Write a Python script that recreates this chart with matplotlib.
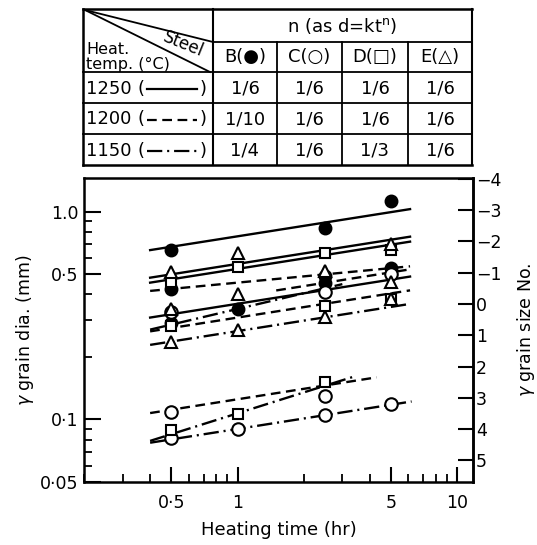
import numpy as np
import matplotlib
matplotlib.use("Agg")
import matplotlib.pyplot as plt
from matplotlib.lines import Line2D

# ── Data ────────────────────────────────────────────────────
STEELS      = ["B", "C", "D", "E"]
STEEL_SYMS  = ["●", "○", "□", "△"]
TEMPS       = [1250, 1200, 1150]
N_TABLE     = [["1/6", "1/6", "1/6", "1/6"],
               ["1/10", "1/6", "1/6", "1/6"],
               ["1/4", "1/6", "1/3", "1/6"]]
N_VALUES    = {("B", 1250): 1/6, ("C", 1250): 1/6, ("D", 1250): 1/6, ("E", 1250): 1/6,
               ("B", 1200): 1/10, ("C", 1200): 1/6, ("D", 1200): 1/6, ("E", 1200): 1/6,
               ("B", 1150): 1/4, ("C", 1150): 1/6, ("D", 1150): 1/3, ("E", 1150): 1/6}

# measured grain diameters (mm) vs heating time (hr)
b1250_t = [0.5, 2.5, 5];       b1250_d = [0.655, 0.83, 1.13]
b1200_t = [0.5, 2.5, 5];       b1200_d = [0.424, 0.49, 0.535]
b1150_t = [0.5, 1, 2.5];       b1150_d = [0.29, 0.34, 0.455]
c1250_t = [0.5, 2.5, 5];       c1250_d = [0.33, 0.41, 0.50]
c1200_t = [0.5, 2.5];          c1200_d = [0.109, 0.129]
c1150_t = [0.5, 1, 2.5, 5];    c1150_d = [0.081, 0.090, 0.1045, 0.118]
d1250_t = [0.5, 1, 2.5, 5];    d1250_d = [0.46, 0.54, 0.63, 0.65]
d1200_t = [0.5, 2.5, 5];       d1200_d = [0.28, 0.35, 0.38]
d1150_t = [0.5, 1, 2.5];       d1150_d = [0.0886, 0.106, 0.152]
e1250_t = [0.5, 1, 5];         e1250_d = [0.51, 0.63, 0.70]
e1200_t = [0.5, 1, 2.5, 5];    e1200_d = [0.34, 0.40, 0.52, 0.46]
e1150_t = [0.5, 1, 2.5, 5];    e1150_d = [0.235, 0.27, 0.31, 0.38]

POINTS = {("B", 1250): (b1250_t, b1250_d), ("B", 1200): (b1200_t, b1200_d), ("B", 1150): (b1150_t, b1150_d),
          ("C", 1250): (c1250_t, c1250_d), ("C", 1200): (c1200_t, c1200_d), ("C", 1150): (c1150_t, c1150_d),
          ("D", 1250): (d1250_t, d1250_d), ("D", 1200): (d1200_t, d1200_d), ("D", 1150): (d1150_t, d1150_d),
          ("E", 1250): (e1250_t, e1250_d), ("E", 1200): (e1200_t, e1200_d), ("E", 1150): (e1150_t, e1150_d)}

# fitted lines d = k t^n : k (mm at 1 hr) and time span of the drawn line
LINE_K    = {("B", 1250): 0.76, ("B", 1200): 0.455, ("B", 1150): 0.34,
             ("C", 1250): 0.36, ("C", 1200): 0.125, ("C", 1150): 0.090,
             ("D", 1250): 0.53, ("D", 1200): 0.309, ("D", 1150): 0.107,
             ("E", 1250): 0.56, ("E", 1200): 0.39,  ("E", 1150): 0.266}
LINE_SPAN = {("B", 1250): (0.4, 6.1), ("B", 1200): (0.4, 6.1), ("B", 1150): (0.4, 3.0),
             ("C", 1250): (0.4, 6.1), ("C", 1200): (0.4, 4.3), ("C", 1150): (0.4, 6.2),
             ("D", 1250): (0.4, 6.1), ("D", 1200): (0.4, 6.1), ("D", 1150): (0.4, 3.4),
             ("E", 1250): (0.4, 6.1), ("E", 1200): (1.5, 6.1), ("E", 1150): (0.4, 6.1)}

X_TICKS  = [0.5, 1, 5, 10];       X_LABELS = ["0·5", "1", "5", "10"]
Y_TICKS  = [0.05, 0.1, 0.5, 1.0]; Y_LABELS = ["0·05", "0·1", "0·5", "1.0"]
GS_NUMS  = [-4, -3, -2, -1, 0, 1, 2, 3, 4, 5]
# ────────────────────────────────────────────────────────────

W, H = 537, 545
plt.rcParams["font.family"] = "DejaVu Sans"
plt.rcParams["lines.scale_dashes"] = False

STYLES = {1250: "-", 1200: (0, (7, 4)), 1150: (0, (11, 3.5, 1.5, 3.5))}
MARKERS = {"B": dict(marker="o", mfc="k", ms=8.5),
           "C": dict(marker="o", mfc="white", ms=9),
           "D": dict(marker="s", mfc="white", ms=7.5),
           "E": dict(marker="^", mfc="white", ms=9)}


def fx(px):
    return px / W


def fy(py):
    return 1 - py / H


fig = plt.figure(figsize=(W / 100, H / 100), dpi=100)
ax = fig.add_axes([fx(84), fy(482), (473 - 84) / W, (482 - 178) / H])
ax.set_xscale("log")
ax.set_yscale("log")
ax.set_xlim(0.2, 11.8)
ax.set_ylim(0.05, 1.45)

# fitted lines
for key, k in LINE_K.items():
    t0, t1 = LINE_SPAN[key]
    tt = np.geomspace(t0, t1, 50)
    ax.plot(tt, k * tt ** N_VALUES[key], color="k", lw=1.7, ls=STYLES[key[1]], zorder=2)

# measured points
for key, (t, d) in POINTS.items():
    ax.plot(t, d, ls="none", mec="k", mew=1.5, zorder=3, **MARKERS[key[0]])

ax.set_xticks(X_TICKS)
ax.set_xticklabels(X_LABELS)
ax.set_yticks(Y_TICKS)
ax.set_yticklabels(Y_LABELS)
ax.tick_params(which="major", direction="in", length=11, width=1.5, labelsize=12.5)
ax.tick_params(which="minor", direction="in", length=6, width=1.3)
ax.tick_params(axis="x", which="major", pad=9)
ax.tick_params(axis="y", which="major", pad=4)
ax.yaxis.set_tick_params(which="major", length=12)
for sp in ax.spines.values():
    sp.set_linewidth(1.8)
ax.spines["top"].set_visible(False)
ax.set_xlabel("Heating time (hr)", fontsize=13, labelpad=6)
ax.set_ylabel("$\\gamma$ grain dia. (mm)", fontsize=12.5, labelpad=3)

# right axis: grain size number (ASTM, d = 0.359 * 2^(-G/2) mm)
ax2 = ax.twinx()
ax2.set_yscale("log")
ax2.set_ylim(ax.get_ylim())
ax2.set_yticks([0.359 * 2 ** (-g / 2) for g in GS_NUMS])
ax2.set_yticklabels([f"{g}".replace("-", "\u2212") for g in GS_NUMS])
ax2.yaxis.set_minor_locator(matplotlib.ticker.NullLocator())
ax2.tick_params(direction="in", length=11, width=1.5, labelsize=12.5, pad=2)
for sp in ax2.spines.values():
    sp.set_visible(False)
ax2.spines["right"].set_visible(True)
ax2.spines["right"].set_linewidth(1.8)
ax2.set_ylabel("$\\gamma$ grain size No.", fontsize=12.5, labelpad=10)

# top line of plot frame
fig.add_artist(Line2D([fx(84), fx(473)], [fy(178), fy(178)], color="k", lw=1.8))

# ── Table ───────────────────────────────────────────────────
COL_X = [83, 213, 277, 342, 408, 472]
ROW_Y = [9, 42, 72, 103, 134, 165]


def seg(x0, y0, x1, y1, lw=1.3, ls="-"):
    fig.add_artist(Line2D([fx(x0), fx(x1)], [fy(y0), fy(y1)], color="k", lw=lw, ls=ls))


# border
seg(COL_X[0], ROW_Y[0], COL_X[-1], ROW_Y[0], lw=1.8)
seg(COL_X[0], ROW_Y[-1], COL_X[-1], ROW_Y[-1], lw=1.8)
seg(COL_X[0], ROW_Y[0], COL_X[0], ROW_Y[-1], lw=1.8)
seg(COL_X[-1], ROW_Y[0], COL_X[-1], ROW_Y[-1], lw=1.5)
# inner lines
seg(COL_X[1], ROW_Y[1], COL_X[-1], ROW_Y[1])
for y in ROW_Y[2:-1]:
    seg(COL_X[0], y, COL_X[-1], y)
seg(COL_X[1], ROW_Y[0], COL_X[1], ROW_Y[-1], lw=1.5)
for x in COL_X[2:-1]:
    seg(x, ROW_Y[1], x, ROW_Y[-1])
# diagonals of corner cell
seg(COL_X[0] + 2, ROW_Y[0] + 1, COL_X[1], ROW_Y[1])
seg(COL_X[0] + 2, ROW_Y[0] + 1, COL_X[1] - 3, ROW_Y[2])

TFS = 13
fig.text(fx(183), fy(44), "Steel", fontsize=12, rotation=-22, ha="center", va="center")
fig.text(fx(86), fy(49), "Heat.", fontsize=11.5, ha="left", va="center")
fig.text(fx(86), fy(64), "temp. (°C)", fontsize=11.5, ha="left", va="center")
fig.text(fx((COL_X[1] + COL_X[-1]) / 2), fy(26), "n (as d=kt$^\\mathregular{n}$)", fontsize=TFS,
         ha="center", va="center")
for j, (s, sym) in enumerate(zip(STEELS, STEEL_SYMS)):
    xc = (COL_X[j + 1] + COL_X[j + 2]) / 2
    fig.text(fx(xc), fy(57), f"{s}({sym})", fontsize=TFS, ha="center", va="center")

for i, temp in enumerate(TEMPS):
    yc = (ROW_Y[i + 2] + ROW_Y[i + 3]) / 2 + 1
    fig.text(fx(86), fy(yc), str(temp), fontsize=TFS, ha="left", va="center")
    fig.text(fx(141), fy(yc), "(", fontsize=TFS, ha="center", va="center")
    fig.text(fx(203), fy(yc), ")", fontsize=TFS, ha="center", va="center")
    seg(147, yc, 197, yc, lw=1.6, ls=STYLES[temp])
    for j in range(4):
        xc = (COL_X[j + 1] + COL_X[j + 2]) / 2
        fig.text(fx(xc), fy(yc), N_TABLE[i][j], fontsize=TFS, ha="center", va="center")

fig.savefig("out.png", dpi=100)
